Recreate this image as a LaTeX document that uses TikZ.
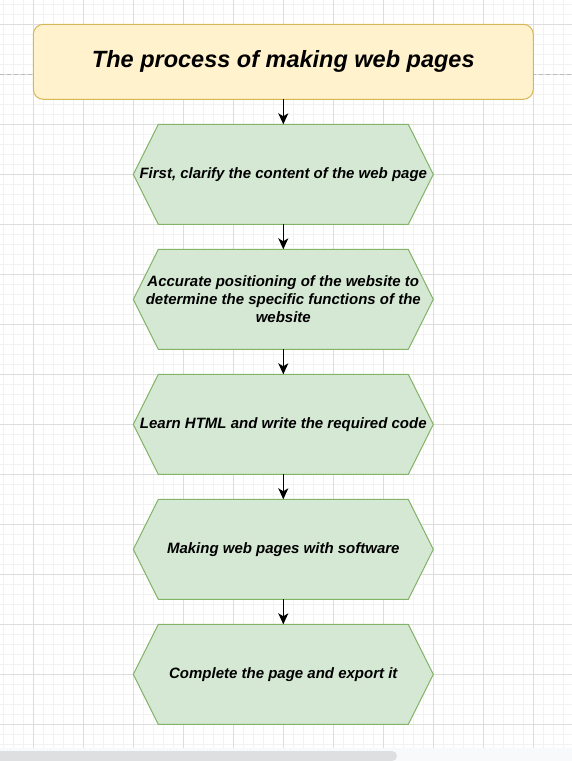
\documentclass[tikz,border=0pt]{standalone}
\usepackage{fontspec}
\setmainfont{Liberation Sans}
\usetikzlibrary{arrows.meta,positioning}

\definecolor{titlefill}{HTML}{FFF2CC}
\definecolor{titleline}{HTML}{D6B656}
\definecolor{stepfill}{HTML}{D5E8D4}
\definecolor{stepline}{HTML}{82B366}
\definecolor{gridminor}{HTML}{F2F2F2}
\definecolor{gridmajor}{HTML}{DDDDDD}
\definecolor{guideline}{HTML}{BBBBBB}
\definecolor{barback}{HTML}{F8F9FA}
\definecolor{barthumb}{HTML}{DEDFE1}

\pgfdeclarelayer{gridlayer}
\pgfdeclarelayer{shapelayer}
\pgfsetlayers{gridlayer,shapelayer,main}

\tikzset{
	titlebox/.style={draw=titleline, fill=titlefill, line width=1pt, outer sep=0pt,
		rounded corners=10pt, minimum width=500pt, minimum height=75pt,
		font=\fontsize{23.5}{28}\selectfont\bfseries\itshape},
	stepbox/.style={rectangle, outer sep=0pt, inner sep=0pt,
		minimum width=300pt, minimum height=100pt, align=center,
		font=\fontsize{15}{17.7}\selectfont\bfseries\itshape},
	stepshape/.style={draw=stepline, fill=stepfill, line width=1pt},
	flowarrow/.style={-{Stealth[length=11pt,width=10pt,inset=3pt]}, line width=1pt, black}
}

\begin{document}
\begin{tikzpicture}[x=1pt, y=-1pt, line join=round]
	\useasboundingbox (0,0) rectangle (572,761);
	
	% ---------- background grid ----------
	\begin{pgfonlayer}{gridlayer}
		\foreach \gx in {3.3,13.3,...,572}
		\draw[gridminor, line width=1pt] (\gx,0) -- (\gx,761);
		\foreach \gy in {4.3,14.3,...,761}
		\draw[gridminor, line width=1pt] (0,\gy) -- (572,\gy);
		\foreach \gx in {33.3,83.3,...,572}
		\draw[gridmajor, line width=1pt] (\gx,0) -- (\gx,761);
		\foreach \gy in {24.3,74.3,...,761}
		\draw[gridmajor, line width=1pt] (0,\gy) -- (572,\gy);
		
		% dashed guide behind the title
		\draw[guideline, line width=1pt, dash pattern=on 4pt off 3pt] (0,74.3) -- (572,74.3);
	\end{pgfonlayer}
	
	% ---------- title ----------
	\node[titlebox] (title) at (283.3,61.8) {\raisebox{-3pt}{The process of making web pages}};
	
	% ---------- steps ----------
	\node[stepbox, below=25pt of title] (clarify) {First, clarify the content of the web page};
	\node[stepbox, below=25pt of clarify] (position) {Accurate positioning of the website to\\determine the specific functions of the\\website};
	\node[stepbox, below=25pt of position] (html) {Learn HTML and write the required code};
	\node[stepbox, below=25pt of html] (software) {Making web pages with software};
	\node[stepbox, below=25pt of software] (export) {Complete the page and export it};
	
	% hexagon outlines round the steps
	\begin{pgfonlayer}{shapelayer}
		\foreach \n in {clarify,position,html,software,export}
		\filldraw[stepshape] (\n.west) -- ([xshift=25pt]\n.north west)
		-- ([xshift=-25pt]\n.north east) -- (\n.east)
		-- ([xshift=-25pt]\n.south east) -- ([xshift=25pt]\n.south west) -- cycle;
	\end{pgfonlayer}
	
	% ---------- arrows ----------
	\draw[flowarrow] (title.south) -- (clarify.north);
	\draw[flowarrow] (clarify.south) -- (position.north);
	\draw[flowarrow] (position.south) -- (html.north);
	\draw[flowarrow] (html.south) -- (software.north);
	\draw[flowarrow] (software.south) -- (export.north);
	
	% ---------- scroll bar ----------
	\fill[barback] (0,747.7) rectangle (572,761);
	\fill[barthumb, rounded corners=5pt] (-10,751) rectangle (397,761);
	
\end{tikzpicture}
\end{document}
